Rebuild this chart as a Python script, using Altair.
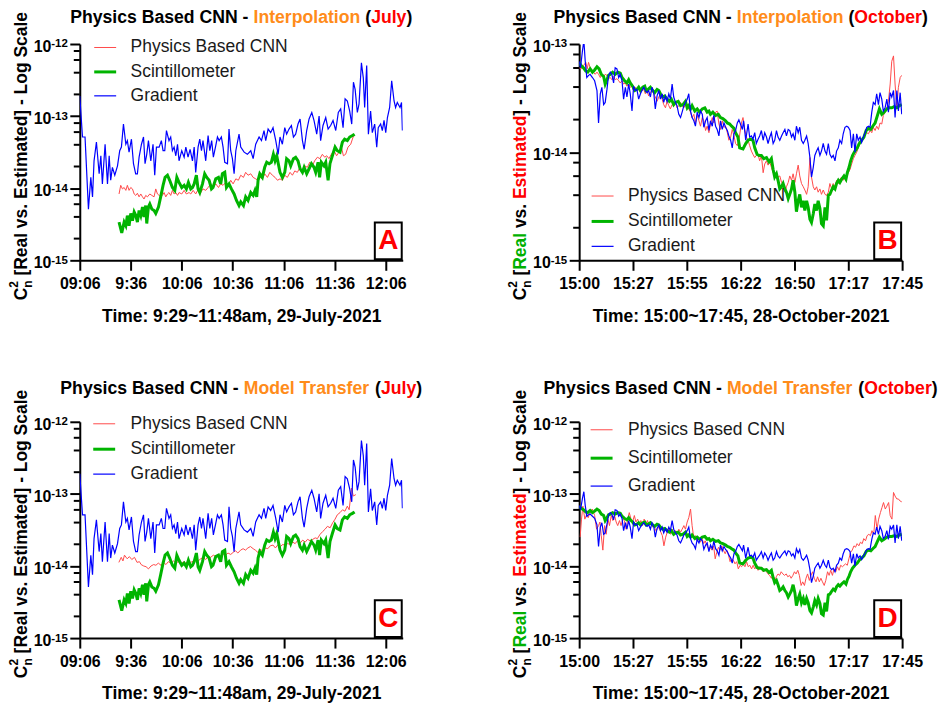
import altair as alt
import pandas as pd

FONT = "Liberation Sans"
SERIES = ["Physics Based CNN", "Scintillometer", "Gradient"]
LINE_COLORS = ["#FF4A4A", "#00B400", "#0000FF"]
LINE_WIDTHS = [1.0, 3.0, 1.2]
TXT_ORANGE = "#FF8C1A"
TXT_RED = "#FF0000"
TXT_GREEN = "#00B000"

# ---------------- tick values / labels ----------------
JUL_X_TICKS = [0, 30, 60, 90, 120, 150, 180]
JUL_X_LABELS = ["09:06", "9:36", "10:06", "10:36", "11:06", "11:36", "12:06"]
OCT_X_TICKS = [0, 27.5, 55, 82.5, 110, 137.5, 165]
OCT_X_LABELS = ["15:00", "15:27", "15:55", "16:22", "16:50", "17:17", "17:45"]
Y_MAJOR_3DEC = [1e-12, 1e-13, 1e-14, 1e-15]
Y_EXP_3DEC = ["-12", "-13", "-14", "-15"]
Y_MAJOR_2DEC = [1e-13, 1e-14, 1e-15]
Y_EXP_2DEC = ["-13", "-14", "-15"]
Y_MINOR_3DEC = [k * 10.0 ** d for d in (-15, -14, -13) for k in (2, 4, 6, 8)]
Y_MINOR_2DEC = [k * 10.0 ** d for d in (-15, -14) for k in (2, 4, 6, 8)]

# ---------------- July 29 data (minutes after 09:06, log10 Cn2) ----------------
jul_grad_t = [0, 1.6, 3.1, 5.1, 6.5, 7.5, 8.4, 9.8, 11.4, 12.4,
              13.3, 14.9, 16.3, 17.3, 18.2, 19.2, 20.6, 22.2, 23.5, 24.5,
              25.7, 27.1, 28.0, 29.0, 30.4, 31.6, 32.9, 33.9, 34.9, 36.3,
              37.5, 38.4, 39.4, 40.4, 41.8, 43.1, 44.1, 45.1, 46.7, 48.0,
              49.0, 50.0, 51.0, 52.5, 53.5, 54.5, 55.5, 56.5, 57.5, 58.4,
              60.0, 61.4, 62.4, 63.7, 64.9, 66.3, 67.3, 68.2, 69.6, 70.6,
              71.6, 72.5, 74.1, 75.5, 76.5, 77.6, 78.6, 80.0, 81.0, 82.0,
              83.3, 84.3, 85.3, 86.9, 87.8, 88.8, 89.8, 90.8, 91.8, 93.7,
              94.7, 96.7, 98.6, 100.6, 102.0, 103.5, 105.5, 106.9, 108.4, 109.4,
              110.8, 112.3, 113.7, 115.3, 116.7, 117.8, 119.2, 120.6, 121.7, 123.1,
              124.5, 125.7, 127.0, 128.4, 129.6, 131.0, 132.0, 133.5, 134.9, 136.5,
              137.8, 139.4, 140.8, 141.7, 143.1, 144.7, 146.1, 147.6, 149.0, 150.6,
              152.1, 153.5, 154.9, 156.1, 157.4, 158.8, 160.0, 161.0, 162.0, 163.3,
              164.3, 165.7, 166.8, 167.6, 168.8, 169.8, 171.1, 172.1, 173.5, 174.7,
              175.6, 177.0, 178.0, 179.0, 180.0, 181.0, 182.3, 183.5, 184.9, 185.8,
              186.8, 188.4, 189.3, 189.8]
jul_grad_log = [-12.72, -13.29, -13.29, -14.29, -13.85, -14.12, -13.62, -13.36, -13.80, -13.55,
                -13.94, -13.39, -13.94, -13.55, -13.89, -13.71, -13.82, -13.69, -13.48, -13.43,
                -13.11, -13.39, -13.34, -13.50, -13.32, -13.66, -13.80, -13.80, -13.57, -13.39,
                -13.29, -13.66, -13.53, -13.34, -13.62, -13.39, -13.82, -13.43, -13.43, -13.34,
                -13.48, -13.48, -13.20, -13.34, -13.29, -13.48, -13.43, -13.55, -13.39, -13.62,
                -13.48, -13.57, -13.43, -13.57, -13.46, -13.62, -13.43, -13.78, -13.43, -13.32,
                -13.48, -13.34, -13.62, -13.27, -13.48, -13.34, -13.57, -13.41, -13.29, -13.34,
                -13.29, -13.43, -13.64, -13.66, -13.18, -13.48, -13.59, -13.80, -13.48, -13.25,
                -13.43, -13.50, -13.53, -13.48, -13.59, -13.39, -13.29, -13.34, -13.20, -13.34,
                -13.18, -13.23, -13.16, -13.34, -13.53, -13.29, -13.39, -13.16, -13.25, -13.18,
                -13.13, -13.29, -13.25, -13.11, -13.04, -13.34, -13.46, -13.20, -13.04, -12.95,
                -13.06, -13.25, -13.00, -13.34, -13.13, -13.02, -13.18, -13.13, -13.06, -13.20,
                -12.95, -12.90, -13.16, -12.76, -12.79, -12.93, -13.11, -12.53, -12.63, -12.95,
                -12.83, -12.26, -12.47, -12.88, -12.30, -13.25, -12.93, -13.23, -13.11, -13.43,
                -13.16, -13.11, -13.20, -13.06, -13.23, -13.02, -12.88, -12.51, -12.79, -12.88,
                -12.81, -12.88, -12.81, -13.20]

jul_scint_t = [23.1, 24.7, 26.1, 27.1, 28.0, 29.0, 30.0, 31.0, 32.0, 33.0,
               33.9, 34.9, 35.9, 36.9, 37.8, 38.8, 39.4, 40.4, 41.2, 42.4,
               43.7, 44.7, 46.3, 47.6, 49.0, 50.2, 51.6, 52.9, 54.5, 55.9,
               57.1, 58.4, 60.0, 61.4, 62.7, 63.9, 65.3, 66.3, 67.3, 68.6,
               69.6, 70.6, 72.2, 73.5, 74.7, 76.1, 77.5, 78.4, 80.0, 81.6,
               82.9, 83.9, 85.3, 86.3, 87.8, 89.2, 90.8, 92.2, 93.7,
               94.7, 96.3, 97.6, 99.0, 100.6, 102.0, 103.1, 104.1, 104.9, 105.9,
               107.4, 108.8, 110.0, 111.4, 112.7, 113.9, 114.9, 115.9, 116.8, 117.8,
               119.2, 120.6, 121.7, 123.1, 124.1, 125.7, 127.0, 128.4, 129.6, 131.0,
               132.0, 133.5, 134.9, 136.3, 137.8, 138.8, 140.2, 141.1, 142.1, 143.7,
               144.7, 146.1, 147.2, 148.6, 150.2, 151.5, 153.1, 154.5, 155.8, 157.4,
               158.8, 160.4, 161.7]
jul_scint_log = [-14.47, -14.62, -14.47, -14.52, -14.38, -14.52, -14.35, -14.45, -14.33, -14.38,
                 -14.47, -14.31, -14.38, -14.26, -14.40, -14.24, -14.49, -14.26, -14.22, -14.29,
                 -14.31, -14.35, -14.26, -14.12, -13.96, -13.85, -13.82, -13.89, -13.99, -14.03,
                 -13.85, -13.92, -13.99, -13.96, -14.01, -13.92, -14.01, -13.99, -13.94, -13.82,
                 -14.01, -14.06, -13.94, -13.80, -13.85, -13.89, -14.01, -13.99, -13.87, -13.85,
                 -13.94, -13.80, -13.78, -13.99, -13.94, -14.01, -14.08, -14.17, -14.24,
                 -14.19, -14.24, -14.12, -14.17, -14.06, -14.10, -14.03, -14.12, -13.89, -13.80,
                 -13.85, -13.71, -13.64, -13.66, -13.64, -13.53, -13.62, -13.55, -13.66, -13.78,
                 -13.85, -13.78, -13.59, -13.62, -13.69, -13.59, -13.57, -13.62, -13.73, -13.78,
                 -13.71, -13.80, -13.73, -13.66, -13.71, -13.78, -13.64, -13.85, -13.64, -13.69,
                 -13.64, -13.89, -13.66, -13.55, -13.43, -13.48, -13.50, -13.36, -13.32, -13.34,
                 -13.29, -13.27, -13.25]

jul_cnn_interp_t = [23.1, 24.1, 25.1, 26.1, 27.1, 28.0, 29.0, 30.0, 31.0, 32.0,
                    32.9, 33.9, 34.9, 35.9, 36.9, 37.8, 38.8, 39.8, 41.2, 42.4,
                    43.7, 44.7, 45.7, 46.7, 47.6, 48.6, 49.6, 50.6, 51.6, 52.5,
                    53.5, 54.5, 55.5, 56.5, 57.5, 58.4, 60.0, 61.4, 62.7, 64.3,
                    65.3, 66.7, 68.2, 69.8, 71.2, 72.5, 74.1, 75.5, 77.1, 78.4,
                    80.0, 81.6, 82.9, 84.3, 85.9, 87.5, 88.8, 90.2, 91.8, 93.3,
                    94.7, 96.3, 97.6, 99.0, 100.6, 102.0, 103.5, 104.9, 106.1, 107.4,
                    108.8, 110.4, 111.8, 113.3, 114.9, 116.3, 117.8, 119.2, 120.6, 122.1,
                    123.7, 125.1, 126.5, 128.0, 129.6, 131.0, 132.3, 133.9, 135.3, 136.8,
                    138.2, 139.8, 141.3, 142.7, 144.1, 145.3, 146.6, 148.0, 149.6, 151.1,
                    152.5, 153.9, 155.1, 156.4, 157.8, 159.4, 160.8, 161.7]
jul_cnn_interp_log = [-14.08, -13.96, -14.01, -13.99, -14.03, -13.96, -14.03, -13.99, -14.01, -14.08,
                      -14.10, -14.07, -14.12, -14.08, -14.12, -14.15, -14.10, -14.12, -14.08, -14.10,
                      -14.12, -14.01, -14.08, -14.10, -14.12, -14.10, -14.06, -14.12, -14.08, -14.06,
                      -14.10, -14.03, -14.08, -14.06, -14.10, -14.06, -14.08, -14.03, -14.08, -14.06,
                      -14.08, -14.03, -14.08, -14.01, -14.06, -14.01, -14.03, -13.99, -13.94, -13.99,
                      -13.94, -13.99, -13.94, -13.96, -13.92, -13.96, -13.89, -13.94, -13.87, -13.89,
                      -13.82, -13.85, -13.78, -13.82, -13.80, -13.85, -13.87, -13.89, -13.85, -13.87,
                      -13.80, -13.85, -13.78, -13.82, -13.85, -13.89, -13.87, -13.89, -13.82, -13.85,
                      -13.78, -13.82, -13.76, -13.78, -13.71, -13.76, -13.69, -13.71, -13.64, -13.69,
                      -13.62, -13.57, -13.59, -13.53, -13.57, -13.55, -13.59, -13.53, -13.48, -13.55,
                      -13.50, -13.43, -13.55, -13.53, -13.43, -13.39, -13.29, -13.27]

jul_cnn_transfer_t = [23.0, 24.4, 25.4, 26.3, 27.9, 29.2, 30.6, 32.2, 33.7, 35.1,
                      36.1, 37.6, 39.0, 40.4, 41.9, 43.5, 44.8, 46.2, 47.8, 49.3,
                      50.7, 52.1, 53.6, 55.2, 56.5, 57.9, 59.5, 61.0, 62.4, 63.8,
                      65.3, 66.9, 68.3, 69.6, 71.2, 72.7, 74.1, 75.5, 77.0, 78.6,
                      80.0, 81.3, 82.9, 84.5, 85.8, 87.2, 88.8, 90.3, 91.7, 93.0,
                      94.6, 96.1, 97.5, 98.9, 100.4, 102.0, 103.3, 104.7, 106.1, 107.7,
                      109.2, 110.6, 112.1, 113.7, 115.1, 116.4, 118.0, 119.5, 120.9, 122.3,
                      123.8, 125.4, 126.7, 128.1, 129.7, 131.2, 132.6, 134.0, 135.5, 137.1,
                      138.5, 139.8, 141.4, 143.0, 144.3, 145.7, 147.3, 148.8, 150.2, 151.5,
                      153.1, 154.6, 156.0, 157.4, 158.5, 159.9, 160.9, 162.4]
jul_cnn_transfer_log = [-13.95, -13.88, -13.93, -13.85, -13.90, -13.87, -13.91, -13.88, -13.95, -13.94,
                        -13.98, -14.00, -14.01, -14.04, -14.00, -13.98, -13.99, -13.96, -13.99, -13.95,
                        -13.98, -13.94, -13.96, -13.93, -13.96, -13.94, -13.98, -13.94, -13.96, -13.93,
                        -13.95, -13.93, -13.91, -13.93, -13.90, -13.88, -13.91, -13.87, -13.88, -13.85,
                        -13.87, -13.84, -13.86, -13.84, -13.85, -13.82, -13.84, -13.81, -13.79, -13.82,
                        -13.78, -13.76, -13.78, -13.75, -13.73, -13.76, -13.78, -13.81, -13.77, -13.79,
                        -13.75, -13.76, -13.72, -13.71, -13.75, -13.71, -13.73, -13.70, -13.72, -13.69,
                        -13.70, -13.67, -13.69, -13.65, -13.68, -13.64, -13.67, -13.63, -13.65, -13.63,
                        -13.61, -13.62, -13.56, -13.52, -13.49, -13.45, -13.47, -13.40, -13.35, -13.29,
                        -13.26, -13.22, -13.24, -13.17, -13.22, -12.92, -13.03, -13.01]

# ---------------- October 28 data (minutes after 15:00, log10 Cn2) ----------------
oct_grad_t = [0, 0.7, 1.7, 2.4, 3.1, 3.9, 4.8, 5.6, 6.8, 7.9,
              9.1, 9.9, 10.8, 11.6, 12.5, 13.3, 14.2, 15.0, 15.9, 16.7,
              17.6, 18.4, 19.3, 20.2, 21.0, 21.9, 22.7, 23.6, 24.4, 25.3,
              26.1, 27.0, 27.8, 28.7, 29.5, 30.4, 31.3, 32.1, 33.0, 33.8,
              34.7, 35.5, 36.4, 37.2, 38.1, 38.9, 39.8, 40.7, 41.5, 42.4,
              43.2, 44.1, 44.9, 45.8, 46.6, 47.5, 48.3, 49.2, 50.0, 50.9,
              51.8, 52.6, 53.5, 54.3, 55.2, 56.0, 56.9, 57.7, 58.6, 59.4,
              60.3, 61.2, 62.0, 62.9, 63.7, 64.6, 65.4, 66.3, 67.1, 68.0,
              68.8, 69.7, 70.5, 71.4, 72.2, 73.1, 74.0, 74.8, 75.7, 76.5,
              77.4, 78.2, 79.1, 79.9, 80.8, 81.6,
              83.4, 84.0, 85.1, 86.3, 87.1, 88.0, 88.8, 89.7, 90.5, 91.4,
              92.2, 93.1, 94.0, 94.8, 95.7, 96.5, 97.4, 98.2, 99.1, 99.9,
              100.8, 101.6, 102.5, 103.4, 104.2, 105.1, 105.9, 106.8, 107.6, 108.5,
              109.3, 110.2, 111.0, 111.9, 112.7, 113.6, 114.5, 115.3, 116.2, 117.0,
              117.9, 118.7, 119.6, 120.4, 121.3, 122.1, 123.0, 123.8, 124.7, 125.6,
              126.4, 127.3, 128.1, 129.0, 129.8, 130.7, 131.5, 132.4, 133.2, 134.1,
              134.9, 135.8, 136.7, 137.5, 138.4, 139.2, 140.1, 140.9, 141.8, 142.6,
              143.5, 144.3, 145.2, 146.1, 146.9, 147.8, 148.6, 149.5, 150.3, 151.2,
              152.0, 152.9, 153.7, 154.6, 155.4, 156.3, 157.2, 158.0, 158.9, 159.7,
              160.6, 161.4, 162.3, 163.1, 164.0, 164.8]
oct_grad_log = [-13.16, -13.22, -13.06, -12.97, -13.16, -13.31, -13.29, -13.28, -13.31, -13.34,
                -13.43, -13.73, -13.46, -13.40, -13.56, -13.54, -13.42, -13.29, -13.26, -13.28,
                -13.36, -13.22, -13.23, -13.31, -13.28, -13.34, -13.51, -13.40, -13.49, -13.37,
                -13.46, -13.62, -13.39, -13.43, -13.42, -13.51, -13.46, -13.43, -13.40, -13.43,
                -13.45, -13.43, -13.49, -13.40, -13.45, -13.60, -13.48, -13.43, -13.51, -13.46,
                -13.54, -13.48, -13.53, -13.46, -13.51, -13.37, -13.49, -13.54, -13.57, -13.65,
                -13.68, -13.63, -13.57, -13.54, -13.51, -13.46, -13.62, -13.68, -13.71, -13.76,
                -13.63, -13.68, -13.62, -13.65, -13.77, -13.71, -13.68, -13.80, -13.71, -13.76,
                -13.66, -13.76, -13.79, -13.85, -13.71, -13.79, -13.73, -13.77, -13.80, -13.85,
                -13.89, -13.96, -13.83, -13.80, -13.73, -13.70,
                -13.79, -13.71, -13.89, -13.74, -13.86, -13.85, -13.88, -13.82, -13.92, -13.88,
                -13.85, -13.80, -13.89, -13.82, -13.86, -13.92, -13.86, -13.82, -13.92, -13.89,
                -13.80, -13.86, -13.89, -13.85, -13.82, -13.79, -13.85, -13.79, -13.80, -13.86,
                -13.83, -13.89, -13.76, -13.82, -13.77, -13.89, -13.92, -13.89, -13.85, -13.92,
                -14.05, -14.23, -14.14, -14.03, -13.99, -13.96, -14.03, -13.99, -13.92, -13.99,
                -14.02, -13.92, -14.02, -14.05, -14.03, -14.08, -13.99, -13.96, -13.89, -13.92,
                -13.83, -13.77, -13.76, -13.77, -13.80, -13.96, -13.83, -14.00, -13.83, -13.89,
                -13.86, -13.91, -13.86, -13.82, -13.77, -13.76, -13.77, -13.63, -13.54, -13.56,
                -13.46, -13.56, -13.45, -13.51, -13.62, -13.59, -13.51, -13.63, -13.45, -13.49,
                -13.43, -13.68, -13.43, -13.62, -13.45, -13.65]

oct_scint_t = [0, 1.0, 2.2, 3.4, 4.4, 5.6, 6.8, 7.9, 9.1, 10.2,
               11.3, 12.5, 13.3, 14.2, 15.0, 15.9, 17.1, 18.4, 19.8, 21.0,
               21.9, 23.2, 24.4, 25.3, 26.1, 27.3, 28.4, 29.5, 30.4, 31.3,
               32.5, 33.5, 34.2, 35.2, 36.4, 37.6, 38.6, 39.8, 40.7, 41.5,
               42.7, 43.7, 44.9, 46.1, 47.1, 48.3, 49.2, 50.6, 51.8, 53.0,
               54.3, 55.2, 56.0, 56.9, 57.7, 59.1, 60.3, 61.5, 62.9, 64.2,
               65.4, 66.3, 67.1, 68.3, 69.7, 71.1, 72.2, 73.4, 74.8, 75.7,
               76.9, 77.9, 79.1, 79.9, 81.1,
               82.0, 83.7, 85.1, 86.3, 87.5, 88.8, 89.7, 90.9, 91.9, 93.1,
               94.3, 95.7, 97.0, 98.2, 99.1, 99.9, 100.8, 101.6, 102.5, 103.4,
               104.2, 105.1, 105.9, 106.8, 107.6, 108.5, 109.3, 110.2, 111.0, 111.9,
               112.7, 113.6, 114.5, 115.3, 116.2, 117.0, 117.9, 118.7, 119.6, 120.4,
               121.3, 122.1, 123.0, 123.8, 124.7, 125.6, 126.4, 127.3, 128.1, 129.0,
               129.8, 130.7, 131.5, 132.4, 133.2, 134.1, 135.3, 136.3, 137.0, 137.9,
               138.7, 139.7, 140.9, 142.1, 143.1, 144.3, 145.5, 146.6, 147.8, 149.0,
               150.0, 151.2, 152.4, 153.4, 154.6, 155.8, 157.2, 158.3, 159.7, 160.9,
               162.3, 163.6, 164.8]
oct_scint_log = [-13.17, -13.20, -13.22, -13.25, -13.26, -13.23, -13.26, -13.24, -13.21, -13.23,
                 -13.28, -13.30, -13.37, -13.33, -13.29, -13.28, -13.26, -13.28, -13.26, -13.27,
                 -13.31, -13.34, -13.36, -13.33, -13.36, -13.39, -13.43, -13.42, -13.40, -13.43,
                 -13.40, -13.39, -13.43, -13.42, -13.40, -13.43, -13.45, -13.42, -13.43, -13.46,
                 -13.49, -13.48, -13.51, -13.53, -13.51, -13.56, -13.54, -13.53, -13.57, -13.56,
                 -13.53, -13.59, -13.57, -13.60, -13.57, -13.62, -13.60, -13.63, -13.60, -13.59,
                 -13.63, -13.62, -13.65, -13.63, -13.66, -13.65, -13.68, -13.69, -13.71, -13.73,
                 -13.74, -13.76, -13.78, -13.82, -13.86,
                 -13.96, -13.97, -13.92, -13.89, -13.88, -13.89, -13.96, -14.02, -14.03, -14.03,
                 -14.06, -14.05, -14.09, -14.06, -14.16, -14.23, -14.20, -14.26, -14.34, -14.32,
                 -14.29, -14.34, -14.37, -14.43, -14.39, -14.34, -14.26, -14.37, -14.55, -14.45,
                 -14.39, -14.51, -14.45, -14.54, -14.45, -14.51, -14.62, -14.65, -14.57, -14.48,
                 -14.54, -14.45, -14.52, -14.66, -14.68, -14.51, -14.63, -14.40, -14.39, -14.35,
                 -14.32, -14.34, -14.29, -14.26, -14.28, -14.25, -14.22, -14.25, -14.19, -14.14,
                 -14.08, -14.03, -13.99, -13.96, -13.92, -13.89, -13.86, -13.80, -13.78, -13.79,
                 -13.76, -13.73, -13.66, -13.60, -13.65, -13.63, -13.60, -13.59, -13.59, -13.58,
                 -13.59, -13.57, -13.56]

oct_cnn_interp_t = [0, 1.0, 2.2, 3.4, 4.1, 4.8, 5.6, 6.5, 7.3, 8.2,
                    9.1, 9.9, 10.8, 11.6, 12.5, 13.3, 14.2, 15.0, 15.9, 16.7,
                    17.6, 18.4, 19.3, 20.2, 21.0, 21.9, 22.7, 23.6, 24.4, 25.3,
                    26.1, 27.0, 27.8, 28.7, 29.5, 30.4, 31.3, 32.1, 33.0, 33.8,
                    34.7, 35.5, 36.4, 37.2, 38.1, 38.9, 39.8, 40.7, 41.5, 42.4,
                    43.2, 44.1, 44.9, 45.8, 46.6, 47.5, 48.3, 49.2, 50.0, 50.9,
                    51.8, 52.6, 53.5, 54.3, 55.2, 56.0, 56.9, 57.7, 58.6, 59.4,
                    60.3, 61.2, 62.0, 62.9, 63.7, 64.6, 65.4, 66.3, 67.1, 68.0,
                    68.8, 69.7, 70.5, 71.4, 72.2, 73.1, 74.0, 74.8, 75.7, 76.5,
                    77.4, 78.2, 79.1, 79.9, 80.8, 81.6,
                    82.9, 83.7, 84.6, 85.4, 86.3, 87.1, 88.0, 88.8, 89.7, 90.5,
                    91.4, 92.2, 93.1, 94.0, 94.8, 95.7, 96.5, 97.4, 98.2, 99.1,
                    99.9, 100.8, 101.6, 102.5, 103.4, 104.2, 105.1, 105.9, 106.8, 107.6,
                    108.5, 109.3, 110.2, 111.0, 111.9, 112.7, 113.6, 114.5, 115.3, 116.2,
                    117.0, 117.9, 118.7, 119.6, 120.4, 121.3, 122.1, 123.0, 123.8, 124.7,
                    125.6, 126.4, 127.3, 128.1, 129.0, 129.8, 130.7, 131.5, 132.4, 133.2,
                    134.1, 134.9, 135.8, 136.7, 137.5, 138.4, 139.2, 140.1, 140.9, 141.8,
                    142.6, 143.5, 144.3, 145.2, 146.1, 146.9, 147.8, 148.6, 149.5, 150.3,
                    151.2, 152.0, 152.9, 153.7, 154.6, 155.4, 156.3, 157.2, 158.0, 158.9,
                    159.7, 160.6, 161.4, 162.3, 163.1, 164.0, 164.8]
oct_cnn_interp_log = [-13.22, -13.23, -13.20, -13.17, -13.23, -13.17, -13.22, -13.25, -13.26, -13.28,
                      -13.26, -13.28, -13.31, -13.28, -13.30, -13.28, -13.29, -13.32, -13.31, -13.33,
                      -13.30, -13.33, -13.32, -13.34, -13.36, -13.34, -13.37, -13.36, -13.39, -13.37,
                      -13.40, -13.39, -13.43, -13.40, -13.43, -13.42, -13.45, -13.43, -13.42, -13.46,
                      -13.43, -13.48, -13.45, -13.43, -13.46, -13.49, -13.53, -13.49, -13.46, -13.51,
                      -13.56, -13.59, -13.53, -13.57, -13.60, -13.56, -13.57, -13.54, -13.59, -13.57,
                      -13.54, -13.57, -13.59, -13.56, -13.56, -13.60, -13.63, -13.68, -13.65, -13.73,
                      -13.66, -13.71, -13.76, -13.68, -13.71, -13.80, -13.76, -13.82, -13.74, -13.68,
                      -13.73, -13.63, -13.62, -13.74, -13.79, -13.71, -13.77, -13.76, -13.82, -13.89,
                      -13.86, -13.79, -13.85, -13.92, -13.94, -13.89,
                      -13.73, -13.68, -13.79, -13.86, -13.89, -13.94, -13.99, -14.02, -14.05, -14.03,
                      -14.02, -14.08, -14.03, -14.19, -14.11, -14.08, -14.12, -14.09, -14.14, -14.19,
                      -14.22, -14.19, -14.23, -14.22, -14.28, -14.31, -14.37, -14.32, -14.28, -14.22,
                      -14.26, -14.20, -14.28, -14.20, -14.12, -14.22, -14.29, -14.32, -14.35, -14.39,
                      -14.32, -14.05, -14.23, -14.32, -14.35, -14.32, -14.37, -14.34, -14.39, -14.35,
                      -14.39, -14.40, -14.37, -14.29, -14.34, -14.29, -14.32, -14.26, -14.29, -14.25,
                      -14.23, -14.26, -14.22, -14.23, -14.19, -14.16, -14.11, -14.06, -14.03, -14.00,
                      -13.96, -13.92, -13.89, -13.86, -13.83, -13.82, -13.83, -13.80, -13.82, -13.77,
                      -13.80, -13.76, -13.79, -13.73, -13.74, -13.66, -13.63, -13.59, -13.53, -13.37,
                      -13.16, -13.11, -13.37, -13.59, -13.40, -13.31, -13.29]

oct_cnn_transfer_t = [0.5, 1.2, 1.9, 2.9, 3.9, 4.6, 5.6, 6.7, 7.9, 8.9,
                      9.9, 10.6, 11.3, 12.1, 13.0, 13.8, 14.7, 15.5, 16.4, 17.2,
                      18.1, 18.9, 19.7, 20.6, 21.4, 22.3, 23.1, 24.0, 24.8, 25.6,
                      26.5, 27.3, 28.2, 29.0, 29.9, 30.7, 31.5, 32.4, 33.2, 34.1,
                      34.9, 35.8, 36.6, 37.5, 38.3, 39.1, 40.0, 40.8, 41.7, 42.5,
                      43.3, 44.2, 45.0, 45.9, 46.7, 47.6, 48.4, 49.3, 50.1, 50.9,
                      51.8, 52.6, 53.5, 54.3, 55.2, 56.0, 56.9, 57.7, 58.5, 59.4,
                      60.2, 61.1, 61.9, 62.8, 63.6, 64.4, 65.3, 66.1, 67.0, 67.8,
                      68.7, 69.5, 70.3, 71.2, 72.0, 72.9, 73.7, 74.6, 75.4, 76.3,
                      77.1, 77.9, 78.8, 79.6, 80.5, 81.3, 82.2, 83.0, 83.8, 84.7,
                      85.5, 86.4, 87.2, 88.1, 88.9, 89.7, 90.6, 91.4, 92.3, 93.1,
                      94.0, 94.8, 95.7, 96.5, 97.3, 98.2, 99.0, 99.9, 100.7, 101.6,
                      102.4, 103.2, 104.1, 104.9, 105.8, 106.6, 107.5, 108.3, 109.2, 110.0,
                      110.8, 111.7, 112.5, 113.4, 114.2, 115.1, 115.9, 116.7, 117.6, 118.4,
                      119.3, 120.1, 121.0, 121.8, 122.7, 123.5, 124.3, 125.2, 126.0, 126.9,
                      127.7, 128.5, 129.4, 130.2, 131.1, 131.9, 132.8, 133.6, 134.5, 135.3,
                      136.1, 137.0, 137.8, 138.7, 139.5, 140.4, 141.2, 142.0, 142.9, 143.7,
                      144.6, 145.4, 146.3, 147.1, 148.0, 148.8, 149.6, 150.5, 151.3, 152.2,
                      153.0, 153.9, 154.7, 155.5, 156.4, 157.2, 158.1, 158.9, 159.8, 160.6,
                      161.4, 162.3, 163.1, 164.0, 164.8]
oct_cnn_transfer_log = [-13.60, -13.35, -13.17, -13.35, -13.28, -13.33, -13.26, -13.21, -13.30, -13.49,
                        -13.44, -13.39, -13.58, -13.78, -13.44, -13.56, -13.35, -13.44, -13.30, -13.37,
                        -13.30, -13.39, -13.44, -13.37, -13.44, -13.35, -13.37, -13.49, -13.35, -13.26,
                        -13.35, -13.39, -13.30, -13.39, -13.35, -13.42, -13.37, -13.44, -13.35, -13.42,
                        -13.37, -13.44, -13.39, -13.46, -13.44, -13.51, -13.49, -13.46, -13.53, -13.58,
                        -13.72, -13.60, -13.53, -13.49, -13.56, -13.49, -13.56, -13.51, -13.56, -13.49,
                        -13.53, -13.49, -13.44, -13.49, -13.39, -13.33, -13.21, -13.44, -13.60, -13.58,
                        -13.65, -13.62, -13.67, -13.62, -13.69, -13.65, -13.72, -13.76, -13.74, -13.78,
                        -13.72, -13.90, -13.81, -13.74, -13.78, -13.72, -13.78, -13.83, -13.78, -13.85,
                        -13.94, -13.90, -13.92, -13.97, -13.94, -14.04, -13.99, -14.01, -13.97, -14.01,
                        -13.94, -14.01, -13.99, -14.04, -13.99, -14.04, -14.01, -14.06, -14.01, -14.04,
                        -14.08, -14.04, -14.08, -14.11, -14.13, -14.17, -14.13, -14.22, -14.15, -14.11,
                        -14.13, -14.08, -14.11, -14.13, -14.11, -14.15, -14.13, -14.17, -14.13, -14.08,
                        -14.11, -14.06, -14.13, -14.27, -14.22, -14.27, -14.17, -14.11, -14.20, -14.13,
                        -14.08, -14.17, -14.22, -14.15, -14.22, -14.17, -14.22, -14.27, -14.20, -14.08,
                        -14.13, -14.06, -14.13, -14.04, -14.08, -14.01, -14.06, -13.99, -14.01, -13.99,
                        -13.97, -13.99, -13.90, -13.81, -13.78, -13.72, -13.74, -13.69, -13.72, -13.67,
                        -13.69, -13.62, -13.65, -13.58, -13.56, -13.58, -13.51, -13.56, -13.30, -13.49,
                        -13.35, -13.26, -13.19, -13.12, -13.21, -13.17, -13.12, -13.30, -13.35, -12.98,
                        -13.03, -13.07, -13.07, -13.10, -13.11]

# ---------------- helpers ----------------
ARIAL_BOLD = {" ": 278, "(": 333, ")": 333, "-": 333, ".": 278, ":": 333, "[": 333, "]": 333,
              "~": 584, ",": 278, "A": 722, "B": 722, "C": 722, "D": 722, "E": 667, "I": 278,
              "J": 556, "L": 611, "M": 833, "N": 722, "O": 778, "P": 667, "R": 722, "S": 667,
              "T": 611, "a": 556, "b": 611, "c": 556, "d": 611, "e": 556, "f": 333, "g": 611,
              "h": 611, "i": 278, "l": 278, "m": 889, "n": 611, "o": 611, "p": 611, "r": 389,
              "s": 556, "t": 333, "u": 611, "v": 556, "y": 556}


def tw(s, fs):
    return sum(ARIAL_BOLD.get(c, 556) for c in s) * fs / 1000.0


ONE = alt.Data(values=[{"k": 0}])


def txt(s, x, y, color="black", size=18, angle=0, align="left", baseline="alphabetic"):
    return alt.Chart(ONE).mark_text(
        text=s, font=FONT, fontSize=size, fontWeight="bold", color=color,
        angle=angle, align=align, baseline=baseline
    ).encode(x=alt.value(x), y=alt.value(y))


def make_df(t_list, log_list, name):
    return pd.DataFrame({"t": t_list, "v": [10.0 ** v for v in log_list], "s": name})


def panel(cfg):
    W, H = cfg["W"], cfg["H"]
    xscale = alt.Scale(domain=cfg["xdomain"], nice=False, zero=False)
    yscale = alt.Scale(type="log", domain=cfg["ydomain"], nice=False)
    ticks, labels = cfg["xticks"], cfg["xlabels"]
    step = ticks[1] - ticks[0]
    lab_expr = "[" + ",".join("'%s'" % l for l in labels) + "][round(datum.value/%s)]" % step
    xaxis = alt.Axis(values=ticks, labelExpr=lab_expr, title=cfg["xtitle"], tickSize=10,
                     labelPadding=5, labelFlush=False, titlePadding=16,
                     titleFontSize=17.5, titleFont=FONT, titleFontWeight="bold", titleColor="black")
    yaxis = alt.Axis(values=cfg["ymajor"], labelExpr="'10'", title=None, tickSize=10,
                     labelPadding=19, labelBaseline="alphabetic", labelOffset=7.5, labelFlush=False)
    X = alt.X("t:Q", scale=xscale, axis=xaxis)
    Y = alt.Y("v:Q", scale=yscale, axis=yaxis)
    leg = alt.Legend(title=None, orient="none", legendX=cfg["legX"], legendY=cfg["legY"],
                     labelFont=FONT, labelFontSize=17.5, labelColor="#1a1a1a",
                     symbolType="stroke", symbolSize=484, labelOffset=cfg["legOff"],
                     rowPadding=cfg["legPad"], padding=0)
    color = alt.Color("s:N", scale=alt.Scale(domain=SERIES, range=LINE_COLORS), legend=leg)
    sw = alt.StrokeWidth("s:N", scale=alt.Scale(type="ordinal", domain=SERIES, range=LINE_WIDTHS), legend=leg)

    df = pd.concat([make_df(*cfg["cnn"], SERIES[0]),
                    make_df(*cfg["sci"], SERIES[1]),
                    make_df(*cfg["gra"], SERIES[2])], ignore_index=True)
    layers = []
    for name in SERIES:
        layers.append(alt.Chart(df).transform_filter(alt.datum.s == name)
                      .mark_line(clip=True).encode(x=X, y=Y, color=color, strokeWidth=sw))

    # minor ticks of the log axis
    minor_df = pd.DataFrame({"v": cfg["yminor"]})
    layers.append(alt.Chart(minor_df).mark_rule(color="black", strokeWidth=2)
                  .encode(y=Y, x=alt.value(-6), x2=alt.value(0)))
    # exponents of the 10^n labels
    exp_df = pd.DataFrame({"v": cfg["ymajor"], "e": cfg["yexp"]})
    layers.append(alt.Chart(exp_df).mark_text(align="right", baseline="alphabetic", dy=3.5,
                                              font=FONT, fontSize=11.5, fontWeight="bold",
                                              color="black")
                  .encode(y=Y, x=alt.value(-12), text="e:N"))

    # panel letter box
    layers.append(alt.Chart(ONE).mark_rect(fill="white", stroke="black", strokeWidth=2)
                  .encode(x=alt.value(W - 28), x2=alt.value(W - 1), y=alt.value(H - 38), y2=alt.value(H - 1)))
    layers.append(txt(cfg["letter"], W - 14.5, H - 19, color=TXT_RED, size=28,
                      align="center", baseline="middle"))

    # multi-coloured title
    tfs = 17.7
    pieces = [("Physics Based CNN - ", "black"), (cfg["method"], TXT_ORANGE), (" (", "black"),
              (cfg["month"], TXT_RED), (")", "black")]
    total = sum(tw(p, tfs) for p, _ in pieces)
    x0 = W / 2 - total / 2
    for p, col in pieces:
        lead = len(p) - len(p.lstrip(" "))
        if p.strip():
            layers.append(txt(p.strip(), x0 + tw(" " * lead, tfs), cfg["titleY"], color=col, size=tfs))
        x0 += tw(p, tfs)

    # rotated y-axis title: C_n^2 [Real vs. Estimated] - Log Scale
    yfs, sfs = 17.5, 12
    base_x = -53
    if cfg["colored"]:
        ypieces = [(" [", "black"), ("Real", TXT_GREEN), (" vs. ", "black"),
                   ("Estimated", TXT_RED), ("] - Log Scale", "black")]
    else:
        ypieces = [(" [Real vs. Estimated] - Log Scale", "black")]
    total = tw("C", yfs) + tw("n", sfs) + sum(tw(p, yfs) for p, _ in ypieces)
    y0 = H / 2 + 4 + total / 2
    layers.append(txt("C", base_x, y0, size=yfs, angle=270))
    off = tw("C", yfs)
    layers.append(txt("n", base_x + 5, y0 - off, size=sfs, angle=270))
    layers.append(txt("2", base_x - 9, y0 - off, size=sfs, angle=270))
    off += tw("n", sfs)
    for p, col in ypieces:
        lead = len(p) - len(p.lstrip(" "))
        layers.append(txt(p.strip(), base_x, y0 - off - tw(" " * lead, yfs), color=col, size=yfs, angle=270))
        off += tw(p, yfs)

    return alt.layer(*layers).properties(width=W, height=H)


JUL_TITLE = "Time: 9:29~11:48am, 29-July-2021"
OCT_TITLE = "Time: 15:00~17:45, 28-October-2021"

common_jul = dict(xdomain=[0, 190], xticks=JUL_X_TICKS, xlabels=JUL_X_LABELS, xtitle=JUL_TITLE,
                  ydomain=[1e-15, 1e-12], ymajor=Y_MAJOR_3DEC, yexp=Y_EXP_3DEC, yminor=Y_MINOR_3DEC,
                  sci=(jul_scint_t, jul_scint_log), gra=(jul_grad_t, jul_grad_log), month="July",
                  colored=False, W=324, H=217)

pA = panel(dict(common_jul, cnn=(jul_cnn_interp_t, jul_cnn_interp_log), method="Interpolation",
                letter="A", titleY=-21, legX=13, legY=-8, legOff=13, legPad=3.5))
pC = panel(dict(common_jul, cnn=(jul_cnn_transfer_t, jul_cnn_transfer_log), method="Model Transfer",
                letter="C", titleY=-27.5, legX=12, legY=-9.5, legOff=14, legPad=4.5))

pB = panel(dict(xdomain=[0, 165], xticks=OCT_X_TICKS, xlabels=OCT_X_LABELS, xtitle=OCT_TITLE,
                ydomain=[1e-15, 1e-13], ymajor=Y_MAJOR_2DEC, yexp=Y_EXP_2DEC, yminor=Y_MINOR_2DEC,
                sci=(oct_scint_t, oct_scint_log), gra=(oct_grad_t, oct_grad_log),
                cnn=(oct_cnn_interp_t, oct_cnn_interp_log), month="October", method="Interpolation",
                colored=True, W=324, H=217, letter="B", titleY=-21,
                legX=11, legY=141, legOff=13, legPad=4.5))
pD = panel(dict(xdomain=[0, 165], xticks=OCT_X_TICKS, xlabels=OCT_X_LABELS, xtitle=OCT_TITLE,
                ydomain=[1e-15, 1e-12], ymajor=Y_MAJOR_3DEC, yexp=Y_EXP_3DEC, yminor=Y_MINOR_3DEC,
                sci=(oct_scint_t, oct_scint_log), gra=(oct_grad_t, oct_grad_log),
                cnn=(oct_cnn_transfer_t, oct_cnn_transfer_log), month="October", method="Model Transfer",
                colored=True, W=324, H=217, letter="D", titleY=-27.5,
                legX=10, legY=-3.5, legOff=14, legPad=7.5))

chart = alt.concat(pA, pB, pC, pD, columns=2, spacing={"row": 162, "column": 177},
                   bounds="flush").resolve_scale(
    color="independent", strokeWidth="independent"
).resolve_legend(
    color="independent", strokeWidth="independent"
).properties(
    padding={"left": 0, "top": 0, "right": 2, "bottom": 2}
).configure_view(stroke=None).configure_axis(
    grid=False, domainColor="black", domainWidth=2, tickColor="black", tickWidth=2,
    labelFont=FONT, labelFontSize=16, labelFontWeight="bold", labelColor="black"
)

chart.save("out.html", embed_options={"renderer": "svg", "actions": False})
